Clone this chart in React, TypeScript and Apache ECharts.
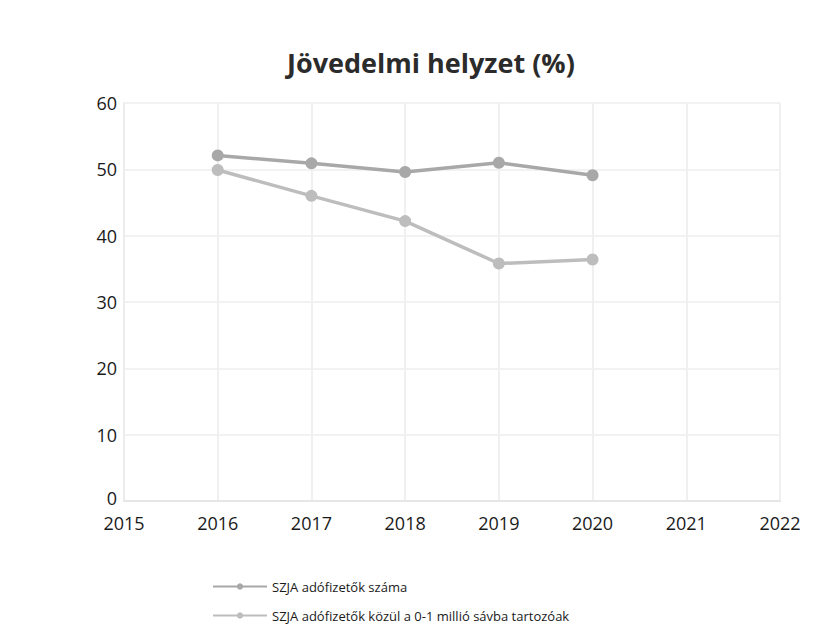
import React, { useEffect, useRef } from "react";
import * as echarts from "echarts";

const years = ["2015", "2016", "2017", "2018", "2019", "2020", "2021", "2022"];
const seriesNames = [
  "SZJA adófizetők száma",
  "SZJA adófizetők közül a 0-1 millió sávba tartozóak",
];
const taxpayers = [null, 52.1, 50.9, 49.6, 51.0, 49.1, null, null];
const lowBand = [null, 49.9, 46.0, 42.2, 35.8, 36.4, null, null];
const yTicks = [0, 10, 20, 30, 40, 50, 60];

export default function App() {
  const ref = useRef<HTMLDivElement>(null);
  useEffect(() => {
    if (!ref.current) return;
    const chart = echarts.init(ref.current, null, { renderer: "svg" });
    const font = "'Open Sans', 'Noto Sans', sans-serif";
    chart.setOption({
      animation: false,
      backgroundColor: "#ffffff",
      title: {
        text: "Jövedelmi helyzet (%)",
        left: 282,
        top: 44,
        textStyle: { fontFamily: font, fontSize: 27, fontWeight: "bold", color: "#2b2b2b" },
      },
      grid: { left: 124, right: 38, top: 103, bottom: 136 },
      xAxis: {
        type: "category",
        data: years,
        boundaryGap: false,
        axisLine: { show: true, lineStyle: { color: "#e6e6e6", width: 2 } },
        axisTick: { show: false },
        splitLine: { show: true, lineStyle: { color: "#f0f0f0", width: 2 } },
        axisLabel: { fontFamily: font, fontSize: 18, color: "#1a1a1a", margin: 13 },
      },
      yAxis: {
        type: "value",
        min: yTicks[0],
        max: yTicks[yTicks.length - 1],
        interval: 10,
        axisLine: { show: true, lineStyle: { color: "#ececec", width: 2 } },
        axisTick: { show: false },
        splitLine: { show: true, lineStyle: { color: "#f2f2f2", width: 2 } },
        axisLabel: {
          fontFamily: font,
          fontSize: 18,
          color: "#1a1a1a",
          margin: 7,
          formatter: (v: number) => (v === 0 ? "{z|0}" : String(v)),
          rich: {
            z: { fontFamily: font, fontSize: 18, color: "#1a1a1a", lineHeight: 16, padding: [0, 0, 6, 0] },
          },
        },
      },
      legend: {
        orient: "vertical",
        left: 207,
        top: 575,
        itemGap: 16,
        itemWidth: 54,
        itemHeight: 8,
        textStyle: { fontFamily: font, fontSize: 13, color: "#1a1a1a" },
        data: seriesNames,
      },
      series: [
        {
          name: seriesNames[0],
          type: "line",
          data: taxpayers,
          symbol: "circle",
          symbolSize: 12,
          lineStyle: { color: "#a8a8a8", width: 3.5 },
          itemStyle: { color: "#a8a8a8" },
        },
        {
          name: seriesNames[1],
          type: "line",
          data: lowBand,
          symbol: "circle",
          symbolSize: 12,
          lineStyle: { color: "#bdbdbd", width: 3.5 },
          itemStyle: { color: "#bdbdbd" },
        },
      ],
    });
    return () => chart.dispose();
  }, []);
  return (
    <div
      ref={ref}
      style={{ position: "fixed", left: 0, top: 0, width: 818, height: 637 }}
    />
  );
}
